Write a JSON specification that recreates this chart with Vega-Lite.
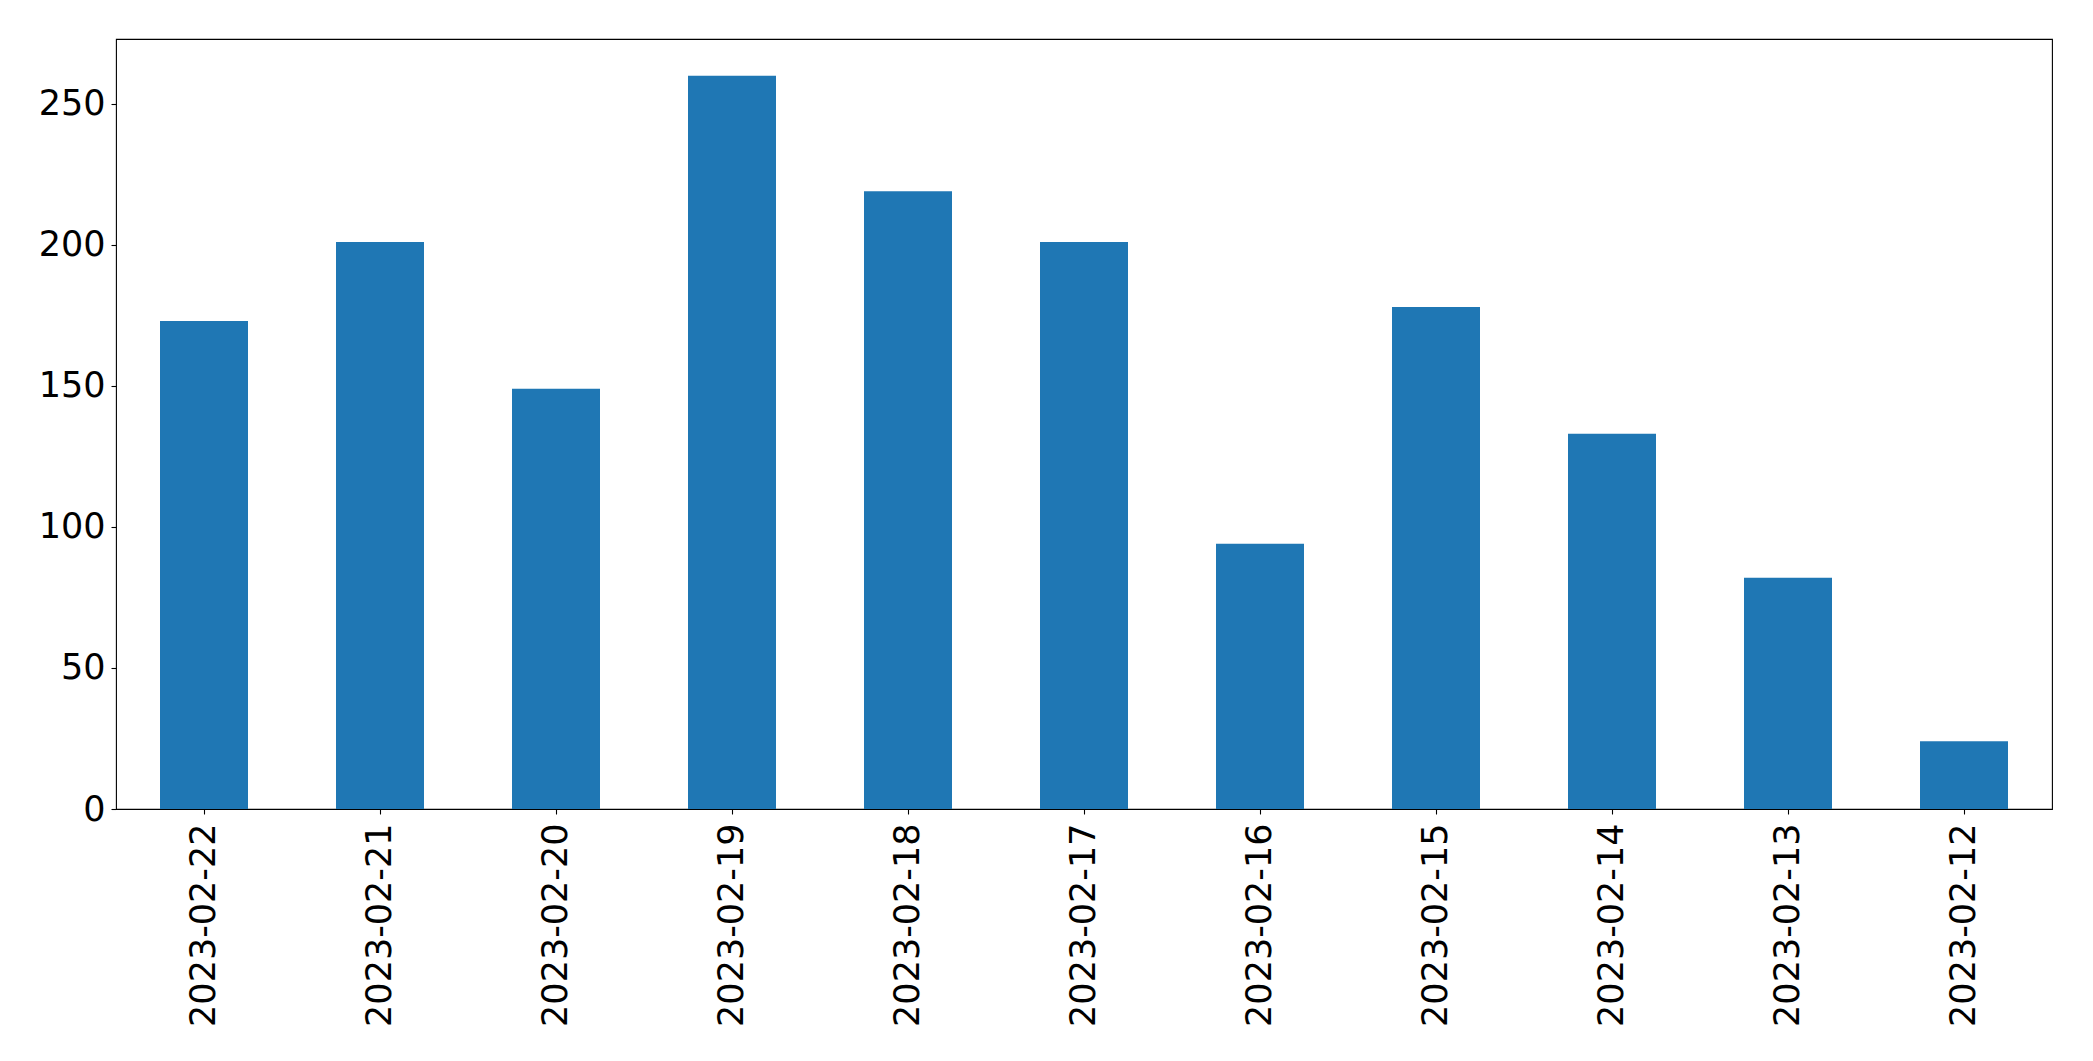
{
  "$schema": "https://vega.github.io/schema/vega-lite/v6.json",
  "width": 1936,
  "height": 770,
  "autosize": {"type": "none"},
  "padding": {"left": 116, "top": 39, "right": 40, "bottom": 252},
  "background": "white",
  "config": {
    "view": {"stroke": "#000000", "strokeWidth": 1.1},
    "font": "DejaVu Sans",
    "axis": {
      "labelFont": "DejaVu Sans",
      "labelFontSize": 35,
      "labelColor": "#000000",
      "labelLimit": 0,
      "tickColor": "#000000",
      "tickSize": 5,
      "tickWidth": 1.1,
      "domain": false,
      "grid": false,
      "title": null
    }
  },
  "data": {
    "values": [
      {"date": "2023-02-22", "count": 173},
      {"date": "2023-02-21", "count": 201},
      {"date": "2023-02-20", "count": 149},
      {"date": "2023-02-19", "count": 260},
      {"date": "2023-02-18", "count": 219},
      {"date": "2023-02-17", "count": 201},
      {"date": "2023-02-16", "count": 94},
      {"date": "2023-02-15", "count": 178},
      {"date": "2023-02-14", "count": 133},
      {"date": "2023-02-13", "count": 82},
      {"date": "2023-02-12", "count": 24}
    ]
  },
  "mark": {"type": "bar", "color": "#1f77b4"},
  "encoding": {
    "x": {
      "field": "date",
      "type": "nominal",
      "sort": null,
      "scale": {"paddingInner": 0.5, "paddingOuter": 0.25},
      "axis": {"labelAngle": -90, "labelPadding": 9, "labelBaseline": "middle", "labelAlign": "right"}
    },
    "y": {
      "field": "count",
      "type": "quantitative",
      "scale": {"domain": [0, 273], "nice": false, "zero": true},
      "axis": {"values": [0, 50, 100, 150, 200, 250], "labelPadding": 6}
    }
  }
}
